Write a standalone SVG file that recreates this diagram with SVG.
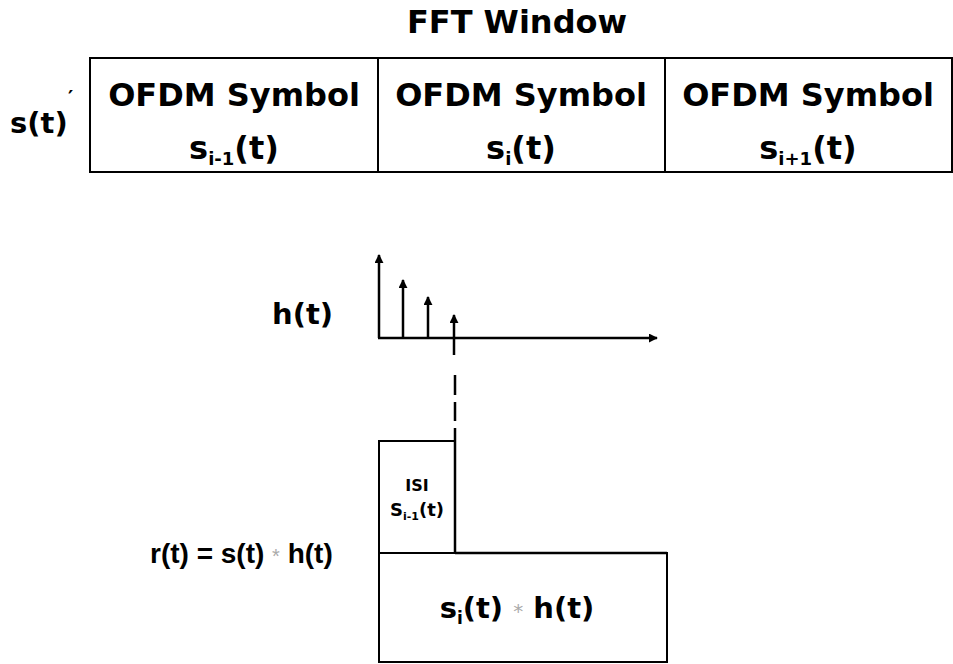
<svg xmlns="http://www.w3.org/2000/svg" width="953" height="664" viewBox="0 0 953 664">
<defs>
<style>
.t{font-family:"DejaVu Sans","Liberation Sans",sans-serif;font-weight:bold;fill:#000}
.a{font-family:"Liberation Sans",Arial,sans-serif;font-weight:bold;fill:#000}
.box{fill:none;stroke:#000;stroke-width:2}
.ln{stroke:#000;stroke-width:2.5;fill:none}
.star{fill:#aaa;font-weight:normal}
</style>
<marker id="ah" viewBox="0 0 10 10" refX="9" refY="5" markerWidth="9" markerHeight="9" markerUnits="userSpaceOnUse" orient="auto">
<path d="M0,0 L10,5 L0,10 z" fill="#000"/>
</marker>
</defs>
<rect width="953" height="664" fill="#fff"/>

<g id="title">
<text class="t" x="517" y="33" font-size="32" text-anchor="middle">FFT Window</text>
</g>

<g id="s-label">
<text class="t" x="10" y="133" font-size="29">s(t)</text>
<text class="t" x="68" y="104" font-size="20">′</text>
</g>

<g id="symbol-prev">
<rect class="box" x="90" y="58" width="288" height="114"/>
<text class="t" x="234" y="106" font-size="32" text-anchor="middle">OFDM Symbol</text>
<text class="t" x="234" y="159" font-size="32" text-anchor="middle">s<tspan font-size="18" dy="6">i-1</tspan><tspan dy="-6">(t)</tspan></text>
</g>

<g id="symbol-cur">
<rect class="box" x="378" y="58" width="287" height="114"/>
<text class="t" x="521" y="106" font-size="32" text-anchor="middle">OFDM Symbol</text>
<text class="t" x="521" y="159" font-size="32" text-anchor="middle">s<tspan font-size="18" dy="6">i</tspan><tspan dy="-6">(t)</tspan></text>
</g>

<g id="symbol-next">
<rect class="box" x="665" y="58" width="287" height="114"/>
<text class="t" x="808" y="106" font-size="32" text-anchor="middle">OFDM Symbol</text>
<text class="t" x="808" y="159" font-size="32" text-anchor="middle">s<tspan font-size="18" dy="6">i+1</tspan><tspan dy="-6">(t)</tspan></text>
</g>

<g id="h-label">
<text class="t" x="272" y="324" font-size="29">h(t)</text>
</g>

<g id="impulse-response">
<line class="ln" x1="379" y1="338" x2="379" y2="255" marker-end="url(#ah)"/>
<line class="ln" x1="378" y1="338" x2="657" y2="338" marker-end="url(#ah)"/>
<line class="ln" x1="403" y1="338" x2="403" y2="280" marker-end="url(#ah)"/>
<line class="ln" x1="428" y1="338" x2="428" y2="297" marker-end="url(#ah)"/>
<line class="ln" x1="454" y1="355" x2="454" y2="315" marker-end="url(#ah)"/>
</g>

<g id="r-label">
<text class="a" x="150" y="563" font-size="28">r(t) = s(t) <tspan class="star" font-size="20">*</tspan> h(t)</text>
</g>

<g id="isi-box">
<rect class="box" x="379" y="441" width="76" height="112"/>
<text class="t" x="417" y="491" font-size="16" text-anchor="middle">ISI</text>
<text class="t" x="417" y="516" font-size="18" text-anchor="middle">S<tspan font-size="11" dy="4">i-1</tspan><tspan dy="-4">(t)</tspan></text>
</g>

<g id="main-box">
<rect class="box" x="379" y="553" width="288" height="109"/>
<text class="t" x="517" y="618" font-size="29" text-anchor="middle">s<tspan font-size="17" dy="6">i</tspan><tspan dy="-6">(t) </tspan><tspan class="star" font-size="20">*</tspan> h(t)</text>
</g>

<g id="connectors">
<line x1="455" y1="355" x2="455" y2="428" stroke="#000" stroke-width="2.5" stroke-dasharray="0,20,20,7,19,20"/>
<line class="ln" x1="455" y1="428" x2="455" y2="553" stroke-width="3"/>
<line class="ln" x1="455" y1="553" x2="667" y2="553" stroke-width="3"/>
</g>
</svg>
